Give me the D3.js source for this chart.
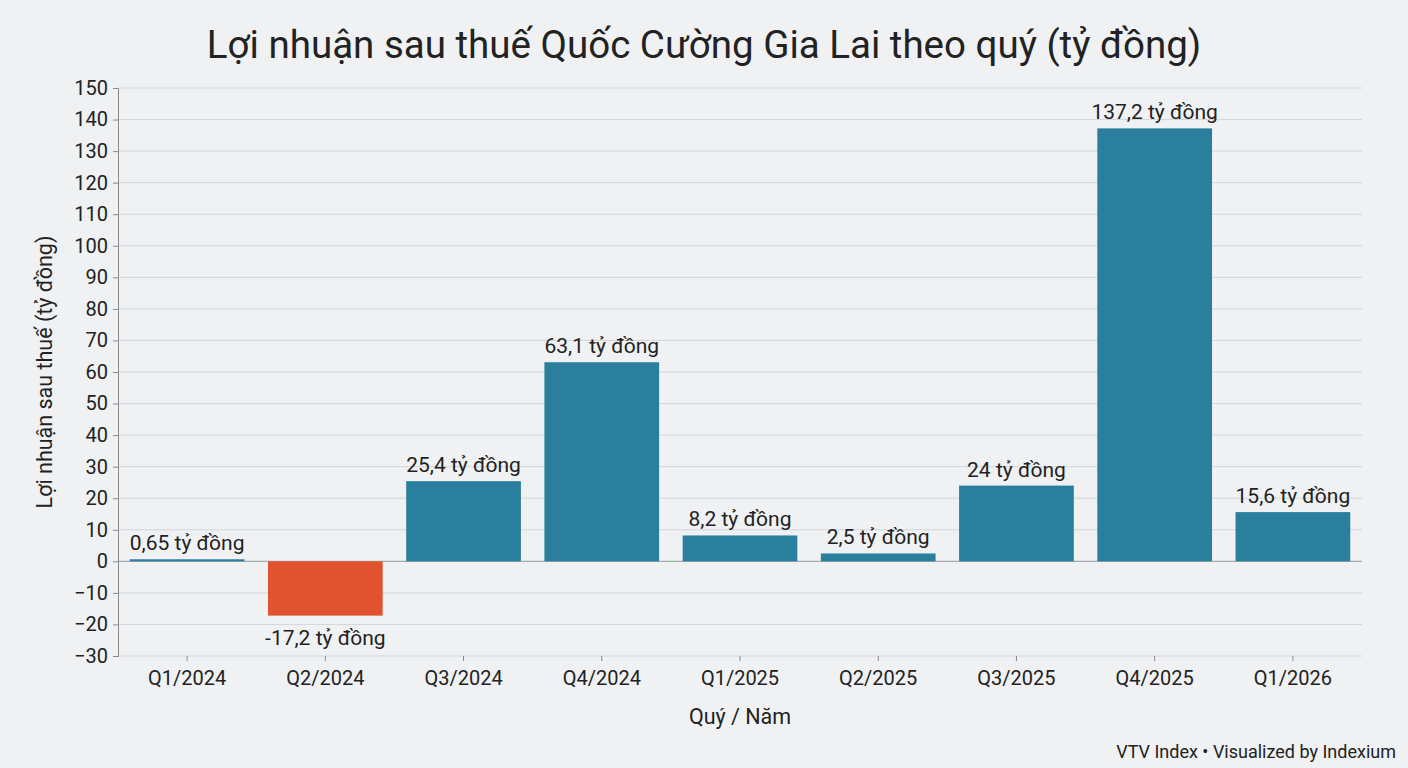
<!DOCTYPE html><html><head><meta charset="utf-8"><script src="https://cdn.jsdelivr.net/npm/d3@7"></script>
<style>body{margin:0;background:#eff1f3;font-family:Roboto,"Noto Sans",sans-serif}</style></head><body><svg id="c" width="1408" height="768"></svg>
<script>
const categories=["Q1/2024","Q2/2024","Q3/2024","Q4/2024","Q1/2025","Q2/2025","Q3/2025","Q4/2025","Q1/2026"];
const values=[0.65,-17.2,25.4,63.1,8.2,2.5,24,137.2,15.6];
const labels=["0,65 tỷ đồng","-17,2 tỷ đồng","25,4 tỷ đồng","63,1 tỷ đồng","8,2 tỷ đồng","2,5 tỷ đồng","24 tỷ đồng","137,2 tỷ đồng","15,6 tỷ đồng"];
const yTicks=d3.range(-30,151,10);
const svg=d3.select("#c");
svg.append("rect").attr("width",1408).attr("height",768).attr("fill","#eff1f3");
const m={l:118,r:1362,t:88,b:656};
const x=d3.scaleBand().domain(categories).range([m.l,m.r]).paddingInner(0.17).paddingOuter(0.085);
const y=d3.scaleLinear().domain([-30,150]).range([m.b,m.t]);
svg.append("g").selectAll("line").data(yTicks).join("line").attr("x1",m.l).attr("x2",m.r).attr("y1",d=>y(d)).attr("y2",d=>y(d)).attr("stroke","#d3d6da").attr("stroke-width",1);
svg.append("line").attr("x1",m.l).attr("x2",m.r).attr("y1",y(0)).attr("y2",y(0)).attr("stroke","#9aa0a6");
const ya=svg.append("g").attr("transform",`translate(${m.l},0)`).call(d3.axisLeft(y).tickValues(yTicks).tickSize(5).tickPadding(5));
ya.selectAll("text").attr("font-size",20).attr("fill","#222").attr("font-family","Roboto");
ya.selectAll("line,path").attr("stroke","#888");
const xa=svg.append("g").attr("transform",`translate(0,${m.b})`).call(d3.axisBottom(x).tickSize(5).tickPadding(10));
xa.selectAll("text").attr("font-size",20).attr("fill","#222").attr("font-family","Roboto");
xa.selectAll("line").attr("stroke","#888");xa.select("path").attr("stroke","none");
svg.append("g").selectAll("rect").data(values).join("rect")
 .attr("x",(d,i)=>x(categories[i])).attr("width",x.bandwidth())
 .attr("y",d=>y(Math.max(0,d))).attr("height",d=>Math.abs(y(d)-y(0)))
 .attr("fill",d=>d<0?"#e0532e":"#2a7f9e");
svg.append("g").selectAll("text").data(values).join("text")
 .attr("x",(d,i)=>x(categories[i])+x.bandwidth()/2)
 .attr("y",d=>d<0?y(d)+29:y(d)-9).attr("text-anchor","middle").attr("font-size",21).attr("fill","#222")
 .text((d,i)=>labels[i]);
svg.append("text").attr("x",704).attr("y",58).attr("text-anchor","middle").attr("font-size",38.5).attr("fill","#222").text("Lợi nhuận sau thuế Quốc Cường Gia Lai theo quý (tỷ đồng)");
svg.append("text").attr("transform",`translate(52,${(m.t+m.b)/2}) rotate(-90)`).attr("text-anchor","middle").attr("font-size",21.5).attr("fill","#222").text("Lợi nhuận sau thuế (tỷ đồng)");
svg.append("text").attr("x",740).attr("y",724).attr("text-anchor","middle").attr("font-size",21.5).attr("fill","#222").text("Quý / Năm");
svg.append("text").attr("x",1396).attr("y",758).attr("text-anchor","end").attr("font-size",18).attr("fill","#222").text("VTV Index • Visualized by Indexium");
</script></body></html>
